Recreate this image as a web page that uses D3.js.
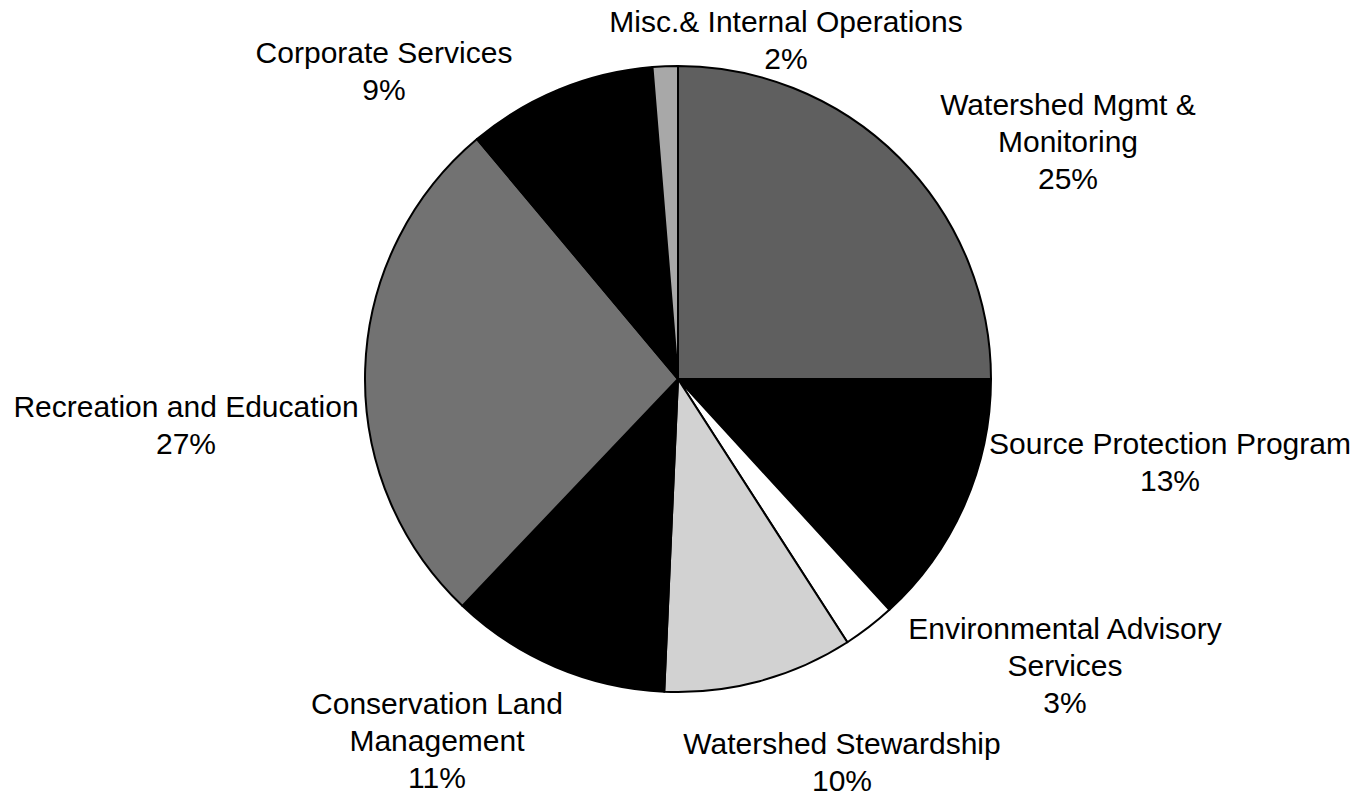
<!DOCTYPE html>
<html>
<head>
<meta charset="utf-8">
<script src="https://cdn.jsdelivr.net/npm/d3@7"></script>
<style>
  html, body { margin: 0; padding: 0; background: #ffffff; }
  svg { display: block; }
  text { font-family: "Liberation Sans", Arial, sans-serif; fill: #000; }
</style>
</head>
<body>
<svg id="chart" width="1365" height="799"></svg>
<script>
// ---- data ----
const categories = [
  "Watershed Mgmt & Monitoring",
  "Source Protection Program",
  "Environmental Advisory Services",
  "Watershed Stewardship",
  "Conservation Land Management",
  "Recreation and Education",
  "Corporate Services",
  "Misc.& Internal Operations"
];
// slice sizes (labels show rounded percentages)
const values = [25.0, 13.2, 2.7, 9.8, 11.4, 26.8, 9.8, 1.3];
const labelLines = [
  ["Watershed Mgmt &", "Monitoring", "25%"],
  ["Source Protection Program", "13%"],
  ["Environmental Advisory", "Services", "3%"],
  ["Watershed Stewardship", "10%"],
  ["Conservation Land", "Management", "11%"],
  ["Recreation and Education", "27%"],
  ["Corporate Services", "9%"],
  ["Misc.& Internal Operations", "2%"]
];

// ---- styles / layout ----
const fills = ["#5f5f5f", "#000000", "#ffffff", "#d2d2d2", "#000000", "#727272", "#000000", "#a8a8a8"];
const cx = 678, cy = 379, radius = 313;
const fontSize = 30, lineGap = 37;
// label block centres (x) and first-line baseline (y)
const labelPos = [
  [1068, 115], [1170, 454], [1065, 639], [842, 754],
  [437, 714], [186, 417], [384, 63], [786, 32]
];

const svg = d3.select("#chart");
const color = d3.scaleOrdinal().domain(categories).range(fills);

const pie = d3.pie().sort(null).value(d => d.value);
const data = categories.map((c, i) => ({ name: c, value: values[i], lines: labelLines[i], pos: labelPos[i] }));
const arcs = pie(data);
const arc = d3.arc().innerRadius(0).outerRadius(radius);

const g = svg.append("g").attr("transform", `translate(${cx},${cy})`);
g.selectAll("path.slice")
  .data(arcs)
  .enter().append("path")
  .attr("class", "slice")
  .attr("d", arc)
  .attr("fill", d => color(d.data.name))
  .attr("stroke", "#000")
  .attr("stroke-width", 2)
  .attr("stroke-linejoin", "round");

const labels = svg.selectAll("text.lbl")
  .data(arcs)
  .enter().append("text")
  .attr("class", "lbl")
  .attr("text-anchor", "middle")
  .attr("font-size", fontSize);

labels.each(function(d) {
  const t = d3.select(this);
  d.data.lines.forEach((line, k) => {
    t.append("tspan")
      .attr("x", d.data.pos[0])
      .attr("y", d.data.pos[1] + k * lineGap)
      .text(line);
  });
});
</script>
</body>
</html>
